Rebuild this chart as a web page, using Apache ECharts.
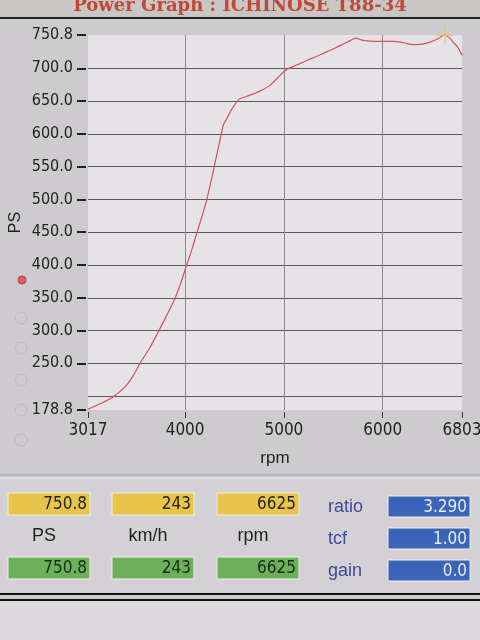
<!DOCTYPE html>
<html>
<head>
<meta charset="utf-8">
<script src="https://cdn.jsdelivr.net/npm/echarts@6/dist/echarts.min.js"></script>
<style>
html,body{margin:0;padding:0;background:#cfcdd0;}
#main{width:480px;height:640px;}
</style>
</head>
<body>
<div id="main"></div>
<script>
// power curve (rpm, PS)
var rpm = [3017, 3150, 3273, 3391, 3470, 3543, 3640, 3728, 3810, 3897, 3955, 4009, 4065, 4117, 4170, 4218, 4260, 4295, 4330, 4353, 4386, 4420, 4487, 4548, 4620, 4690, 4780, 4859, 4940, 5028, 5130, 5230, 5330, 5432, 5520, 5601, 5680, 5729, 5790, 5837, 5950, 6107, 6210, 6309, 6400, 6478, 6560, 6625, 6680, 6714, 6760, 6803];
var ps = [180, 189, 199, 214, 230, 250, 273, 298, 322, 349, 372, 397, 422, 448, 474, 499, 526, 550, 575, 590, 613, 623, 641, 653, 657, 661, 667, 674, 686, 698, 705, 712, 718, 725, 731, 737, 743, 746, 743, 742, 741, 741, 739, 736, 737, 740, 745, 750.8, 746, 740, 732, 720];
var yLabels = [178.8, 250, 300, 350, 400, 450, 500, 550, 600, 650, 700, 750.8];
var yGrid = [200, 250, 300, 350, 400, 450, 500, 550, 600, 650, 700];
var xLabels = [3017, 4000, 5000, 6000, 6803];
var xGrid = [4000, 5000, 6000];
var peak = [6625, 750.8];

// read-out panel
var topVals = ['750.8', '243', '6625'];
var botVals = ['750.8', '243', '6625'];
var unitNames = ['PS', 'km/h', 'rpm'];
var sideNames = ['ratio', 'tcf', 'gain'];
var sideVals = ['3.290', '1.00', '0.0'];

var NARROW = '"DejaVu Sans Condensed", "Liberation Sans", sans-serif';
var SANS = '"Liberation Sans", Arial, sans-serif';

var chart = echarts.init(document.getElementById('main'));

var line = [];
for (var i = 0; i < rpm.length; i++) line.push([rpm[i], ps[i]]);

var g = [];
// background bands
g.push({type: 'rect', shape: {x: 0, y: 0, width: 480, height: 18}, style: {fill: '#c9c6c4'}, z: -10});
g.push({type: 'rect', shape: {x: 0, y: 478, width: 480, height: 118}, style: {fill: '#d3d1d3'}, z: -10});
g.push({type: 'rect', shape: {x: 0, y: 600, width: 480, height: 40}, style: {fill: '#dcdadc'}, z: -10});
g.push({type: 'line', shape: {x1: 0, y1: 18, x2: 480, y2: 18}, style: {stroke: '#222', lineWidth: 2}});
g.push({type: 'line', shape: {x1: 0, y1: 475, x2: 480, y2: 475}, style: {stroke: '#a9a7aa', lineWidth: 1}});
g.push({type: 'line', shape: {x1: 0, y1: 478, x2: 480, y2: 478}, style: {stroke: '#efeef0', lineWidth: 1}});
g.push({type: 'line', shape: {x1: 0, y1: 594, x2: 480, y2: 594}, style: {stroke: '#111', lineWidth: 2}});
g.push({type: 'line', shape: {x1: 0, y1: 600, x2: 480, y2: 600}, style: {stroke: '#111', lineWidth: 2}});

// radio buttons on the left
g.push({type: 'circle', shape: {cx: 22, cy: 280, r: 4}, style: {fill: '#e05a6a', stroke: '#b84050', lineWidth: 1}});
[318, 348, 380, 410, 440].forEach(function (cy) {
    g.push({type: 'circle', shape: {cx: 21, cy: cy, r: 6}, style: {fill: 'none', stroke: '#bdbbc0', lineWidth: 1}});
});

// read-out boxes
var cols = [8, 112, 217];
for (var k = 0; k < 3; k++) {
    g.push({type: 'rect', shape: {x: cols[k], y: 493, width: 82, height: 22},
        style: {fill: '#e8c54a', stroke: '#f1efe8', lineWidth: 1}});
    g.push({type: 'text', x: cols[k] + 79, y: 505, style: {text: topVals[k], fill: '#222', font: '17px ' + NARROW, align: 'right', verticalAlign: 'middle'}});
    g.push({type: 'rect', shape: {x: cols[k], y: 557, width: 82, height: 22},
        style: {fill: '#6cb05a', stroke: '#f1efe8', lineWidth: 1}});
    g.push({type: 'text', x: cols[k] + 79, y: 569, style: {text: botVals[k], fill: '#1a2a18', font: '17px ' + NARROW, align: 'right', verticalAlign: 'middle'}});
    g.push({type: 'text', x: cols[k] + 36, y: 536, style: {text: unitNames[k], fill: '#222', font: '18px ' + SANS, align: 'center', verticalAlign: 'middle'}});
}
var rows = [507, 539, 571];
for (var r = 0; r < 3; r++) {
    g.push({type: 'text', x: 328, y: rows[r], style: {text: sideNames[r], fill: '#3c4a9a', font: '18px ' + SANS, align: 'left', verticalAlign: 'middle'}});
    g.push({type: 'rect', shape: {x: 388, y: rows[r] - 11, width: 82, height: 21},
        style: {fill: '#3a64b8', stroke: '#f1efe8', lineWidth: 1}});
    g.push({type: 'text', x: 467, y: rows[r] + 1, style: {text: sideVals[r], fill: '#e8ecf8', font: '17px ' + NARROW, align: 'right', verticalAlign: 'middle'}});
}

chart.setOption({
    backgroundColor: '#cdcbce',
    animation: false,
    title: {
        text: 'Power Graph : ICHINOSE T88-34',
        left: 'center',
        top: -8,
        textStyle: {
            fontFamily: '"DejaVu Serif", "Liberation Serif", serif',
            fontWeight: 'bold',
            fontSize: 18,
            color: '#c0483a'
        }
    },
    grid: {
        left: 88,
        right: 18,
        top: 35,
        bottom: 230,
        outerBoundsMode: 'none',
        containLabel: false,
        show: true,
        backgroundColor: '#e5e3e6',
        borderWidth: 0
    },
    xAxis: [
        {
            type: 'value',
            min: 3017,
            max: 6803,
            name: 'rpm',
            nameLocation: 'middle',
            nameGap: 38,
            nameMoveOverlap: false,
            nameTextStyle: {color: '#222', fontSize: 17, fontFamily: SANS},
            offset: 2,
            axisLine: {show: false},
            axisTick: {show: true, length: 6, customValues: xLabels, lineStyle: {color: '#333'}},
            axisLabel: {
                customValues: xLabels,
                color: '#222',
                fontSize: 17,
                margin: 10,
                fontFamily: NARROW,
                formatter: function (v) { return String(v); }
            },
            splitLine: {show: false}
        },
        {
            type: 'value',
            min: 3017,
            max: 6803,
            position: 'bottom',
            axisLine: {show: false},
            axisTick: {show: false, customValues: xGrid},
            axisLabel: {show: false, customValues: xGrid},
            splitLine: {show: true, lineStyle: {color: '#8a888c', width: 1}}
        }
    ],
    yAxis: [
        {
            type: 'value',
            min: 178.8,
            max: 750.8,
            name: 'PS',
            nameLocation: 'middle',
            nameRotate: 90,
            nameGap: 62,
            nameMoveOverlap: false,
            nameTextStyle: {color: '#222', fontSize: 16, fontFamily: SANS},
            offset: 2,
            axisLine: {show: false},
            axisTick: {show: true, length: 9, customValues: yLabels, lineStyle: {color: '#222', width: 2}},
            axisLabel: {
                customValues: yLabels,
                color: '#222',
                fontSize: 16,
                margin: 13,
                fontFamily: NARROW,
                formatter: function (v) { return v.toFixed(1); }
            },
            splitLine: {show: false}
        },
        {
            type: 'value',
            min: 178.8,
            max: 750.8,
            position: 'left',
            axisLine: {show: false},
            axisTick: {show: false, customValues: yGrid},
            axisLabel: {show: false, customValues: yGrid},
            splitLine: {show: true, lineStyle: {color: '#5a585c', width: 1}}
        }
    ],
    series: [
        {
            type: 'line',
            data: line,
            smooth: 0.3,
            symbol: 'none',
            lineStyle: {color: '#d8505e', width: 1.2}
        },
        {
            type: 'scatter',
            data: [peak],
            symbol: 'path://M0,5L10,5L10,5.6L0,5.6ZM5,0L5.6,0L5.6,10L5,10Z',
            symbolSize: 18,
            itemStyle: {color: '#e8c24a', opacity: 0.8},
            z: 5
        }
    ],
    graphic: g
});
</script>
</body>
</html>
